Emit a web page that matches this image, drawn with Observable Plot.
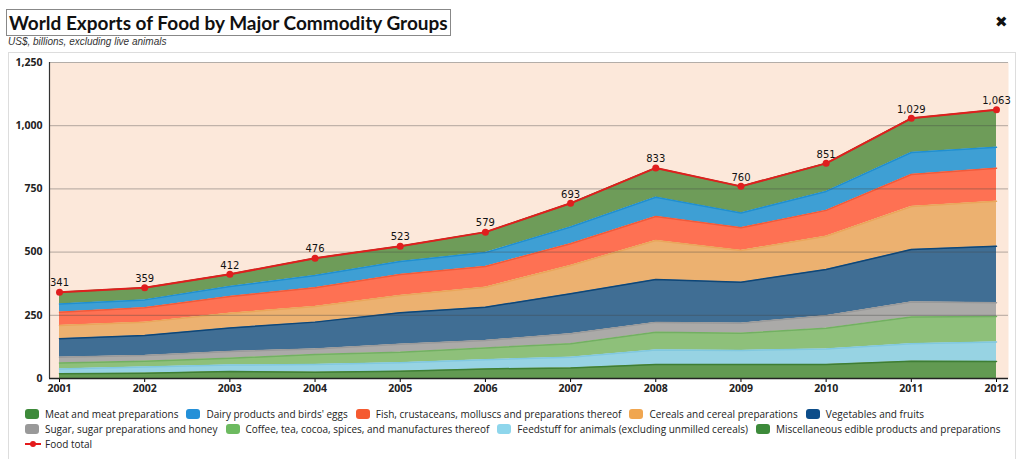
<!DOCTYPE html>
<html>
<head>
<meta charset="utf-8">
<script src="https://cdn.jsdelivr.net/npm/d3@7"></script>
<script src="https://cdn.jsdelivr.net/npm/@observablehq/plot@0.6"></script>
<style>
  html, body { margin: 0; padding: 0; background: #fff; }
  body { width: 1023px; height: 459px; position: relative; overflow: hidden; font-family: "DejaVu Sans", sans-serif; }
  #title { position: absolute; left: 6px; top: 9px; border: 1px solid #888; padding: 0 2px; font-family: Lato, "DejaVu Sans", sans-serif; font-weight: bold; font-size: 19px; line-height: 25px; color: #111; white-space: nowrap; }
  #subtitle { position: absolute; left: 8px; top: 36px; font-family: "Liberation Sans", Arial, sans-serif; font-style: italic; font-size: 10px; color: #333; }
  #close { position: absolute; left: 995px; top: 13px; font-size: 15px; font-weight: bold; color: #111; }
  #box { position: absolute; left: 8px; top: 52px; width: 1008px; height: 420px; border: 1px solid #ddd; box-sizing: border-box; }
  #chart { position: absolute; left: 0; top: 52px; }
  #legend { position: absolute; left: 25px; top: 406px; font-family: "Open Sans", "DejaVu Sans", sans-serif; font-size: 10px; color: #222; }
  .row { display: flex; height: 15px; align-items: center; white-space: nowrap; }
  .item { display: flex; align-items: center; margin-right: 8px; }
  .sw { width: 14px; height: 10px; border-radius: 3px; margin-right: 6px; }
  .ln { width: 16px; height: 2px; background: #e41a1c; position: relative; margin-right: 4px; }
  .ln::after { content: ""; position: absolute; left: 5px; top: -2px; width: 6px; height: 6px; border-radius: 3px; background: #e41a1c; }
</style>
</head>
<body>
<div id="box"></div>
<div id="title">World Exports of Food by Major Commodity Groups</div>
<div id="subtitle">US$, billions, excluding live animals</div>
<div id="close">✖</div>
<div id="chart"></div>
<div id="legend"></div>
<script>
const years = [2001, 2002, 2003, 2004, 2005, 2006, 2007, 2008, 2009, 2010, 2011, 2012];
const meat      = [46, 48, 48, 69, 60, 81, 94, 116, 105, 111, 135, 148];
const dairy     = [33, 31, 40, 48, 52, 55, 66, 76, 59, 75, 87, 83];
const fish      = [52, 57, 66, 74, 83, 82, 86, 95, 90, 102, 127, 131];
const cereals   = [53, 53, 58, 62, 68, 79, 112, 154, 125, 132, 170, 178];
const vegetables= [73, 79, 93, 106, 125, 132, 158, 170, 162, 183, 207, 223];
const sugar     = [23, 23, 27, 22, 31, 29, 40, 39, 40, 49, 60, 55];
const coffee    = [23, 23, 27, 40, 42, 47, 53, 70, 68, 82, 106, 101];
const feedstuff = [19, 24, 25, 30, 33, 36, 42, 58, 56, 62, 69, 77];
const misc      = [19, 21, 28, 25, 29, 38, 42, 55, 55, 55, 68, 67];
const foodTotal = [341, 359, 412, 476, 523, 579, 693, 833, 760, 851, 1029, 1063];
const yTicks = [0, 250, 500, 750, 1000, 1250];

const seriesNames = [
  "Meat and meat preparations",
  "Dairy products and birds' eggs",
  "Fish, crustaceans, molluscs and preparations thereof",
  "Cereals and cereal preparations",
  "Vegetables and fruits",
  "Sugar, sugar preparations and honey",
  "Coffee, tea, cocoa, spices, and manufactures thereof",
  "Feedstuff for animals (excluding unmilled cereals)",
  "Miscellaneous edible products and preparations"
];
const seriesValues = [meat, dairy, fish, cereals, vegetables, sugar, coffee, feedstuff, misc];
const areaColors   = ["#6E9C59", "#3E9FD4", "#FE7153", "#ECB170", "#406E94", "#ABAAA8", "#8EC07A", "#97D3E3", "#629A52"];
const lineColors   = ["#4F8A3C", "#1F8FD0", "#F25A3A", "#EAA65A", "#0E4677", "#9A9A9A", "#72B062", "#80C8E0", "#3E7E34"];
const legendColors = ["#3D8A3A", "#2490D8", "#F55A30", "#F0A650", "#0C4D8A", "#999999", "#6DBA60", "#8ED6EC", "#3D8A3A"];

const rows = [];
seriesNames.forEach((name, i) => {
  years.forEach((yr, j) => rows.push({year: yr, series: name, value: seriesValues[i][j]}));
});
const totals = years.map((yr, j) => ({year: yr, value: foodTotal[j]}));
const stackOrder = seriesNames.slice().reverse(); // bottom to top

const chart = Plot.plot({
  width: 1023,
  height: 345,
  marginTop: 10,
  marginBottom: 19,
  marginLeft: 49,
  marginRight: 15,
  insetLeft: 10,
  insetRight: 12,
  style: {fontFamily: "Open Sans, DejaVu Sans, sans-serif", fontSize: "10.5px", background: "transparent", overflow: "visible"},
  x: {domain: [2001, 2012], ticks: years, tickFormat: d => String(d), tickSize: 4, label: null, tickPadding: 2},
  y: {domain: [0, 1250], ticks: yTicks, tickFormat: d3.format(","), tickSize: 0, label: null, tickPadding: 7},
  color: {domain: seriesNames, range: areaColors},
  marks: [
    Plot.frame({fill: "#FCE8DA", stroke: null}),
    Plot.areaY(rows, Plot.stackY({x: "year", y: "value", z: "series", fill: "series", order: stackOrder})),
    Plot.lineY(rows, Plot.stackY2({x: "year", y: "value", z: "series", order: stackOrder, stroke: d => lineColors[seriesNames.indexOf(d.series)], strokeWidth: 1.5})),
    Plot.ruleY(yTicks.filter(d => d > 0), {stroke: "#444", strokeOpacity: 0.4, strokeWidth: 1}),
    Plot.ruleX([2001], {stroke: "#333", strokeWidth: 1.2, dx: -10}),
    Plot.ruleY([0], {stroke: "#222", strokeWidth: 1.5}),
    Plot.lineY(totals, {x: "year", y: "value", stroke: "#E01E1E", strokeWidth: 2}),
    Plot.dot(totals, {x: "year", y: "value", fill: "#E01E1E", r: 3.5}),
    Plot.text(totals, {x: "year", y: "value", text: d => d3.format(",")(d.value), dy: -9, fill: "#111", fontSize: 10, fontFamily: "DejaVu Sans, sans-serif"})
  ]
});
chart.querySelectorAll('[aria-label="x-axis tick label"] text, [aria-label="y-axis tick label"] text').forEach(t => {
  t.setAttribute("font-weight", "bold");
  t.setAttribute("fill", "#222");
});
document.getElementById("chart").appendChild(chart);

const legend = document.getElementById("legend");
const layout = [[0, 1, 2, 3, 4], [5, 6, 7, 8]];
layout.forEach(r => {
  const row = document.createElement("div");
  row.className = "row";
  r.forEach(i => {
    const it = document.createElement("div");
    it.className = "item";
    it.innerHTML = `<span class="sw" style="background:${legendColors[i]}"></span><span>${seriesNames[i]}</span>`;
    row.appendChild(it);
  });
  legend.appendChild(row);
});
const lastRow = document.createElement("div");
lastRow.className = "row";
lastRow.innerHTML = `<div class="item"><span class="ln"></span><span>Food total</span></div>`;
legend.appendChild(lastRow);
</script>
</body>
</html>
